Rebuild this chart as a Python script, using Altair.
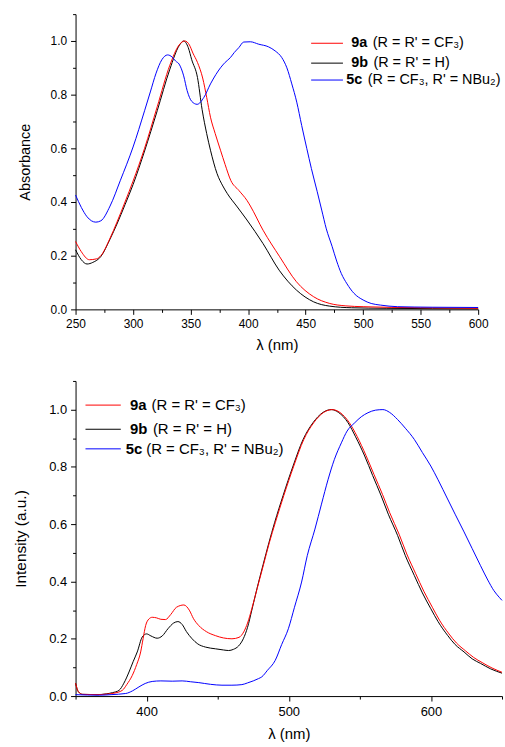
import altair as alt
import pandas as pd

# ---------------- Top panel: absorbance ----------------
abs_nm_9a = [250, 255, 262, 268, 272, 280, 286, 293, 300, 310, 321, 332, 340, 345, 349, 352, 356, 360.5, 364, 367.3,
             371.4, 376, 380, 385, 392, 399, 402, 413, 427.5, 442, 457, 471, 485, 500, 550, 600]
abs_9a = [0.253, 0.215, 0.185, 0.188, 0.20, 0.265, 0.325, 0.40, 0.478, 0.60, 0.755, 0.91, 0.985, 1.0, 0.985, 0.955, 0.92, 0.862, 0.79, 0.716,
          0.655, 0.593, 0.54, 0.48, 0.443, 0.406, 0.385, 0.295, 0.196, 0.103, 0.047, 0.022, 0.013, 0.01, 0.006, 0.004]

abs_nm_9b = [250, 255, 260, 265, 272, 280, 286, 293, 300, 310, 321, 332, 340, 344, 348, 351, 356, 360, 364, 367.3,
             373, 378, 382, 390, 399, 413, 427, 442, 457, 471, 490, 520, 600]
abs_9b = [0.222, 0.185, 0.169, 0.175, 0.197, 0.262, 0.318, 0.39, 0.465, 0.59, 0.74, 0.895, 0.982, 1.0, 0.975, 0.93, 0.864, 0.745, 0.655, 0.593,
          0.506, 0.46, 0.431, 0.385, 0.333, 0.245, 0.146, 0.072, 0.028, 0.012, 0.006, 0.004, 0.002]

abs_nm_5c = [250, 255, 260, 267.6, 272, 280, 289, 300, 310, 315, 320, 325, 330, 334, 337, 340, 344, 347, 351, 355.7,
             361.6, 367.3, 372, 376, 380, 384.6, 388, 391.9, 396.2, 401.9, 409.2, 417.8, 423.5, 429.3, 433.7, 438, 442.3, 446.6, 451, 455,
             460, 464, 468, 473, 477, 481, 486, 492, 500, 507, 515, 530, 560, 600]
abs_5c = [0.426, 0.38, 0.345, 0.325, 0.33, 0.385, 0.481, 0.605, 0.74, 0.81, 0.88, 0.93, 0.948, 0.94, 0.925, 0.914, 0.87, 0.815, 0.775, 0.764,
          0.79, 0.84, 0.875, 0.90, 0.92, 0.938, 0.957, 0.975, 0.996, 0.997, 0.988, 0.978, 0.963, 0.938, 0.90, 0.84, 0.772, 0.685, 0.60, 0.525,
          0.44, 0.37, 0.30, 0.235, 0.18, 0.134, 0.095, 0.06, 0.035, 0.022, 0.016, 0.01, 0.008, 0.007]

# ---------------- Bottom panel: emission ----------------
em_nm_9a = [350, 352, 355, 365, 372, 377, 382.9, 386, 389.9, 393, 395.8, 397.5, 399.3, 401.6, 403.9, 407, 410, 413.2, 417, 421,
            426.2, 430, 433, 436.7, 442, 448.4, 454, 460, 465, 468.3, 471, 474, 477.9, 482.3, 486.3, 490.5, 496.5, 503.5, 510.5, 517.5,
            524.5, 530.5, 536, 542.5, 548, 554.3, 560, 566, 571, 577.6, 583, 589.3, 595, 601, 606, 612.7, 618, 624.3,
            630, 636, 643, 650]
em_9a = [0.045, 0.015, 0.006, 0.005, 0.007, 0.01, 0.02, 0.04, 0.072, 0.11, 0.154, 0.2, 0.246, 0.269, 0.275, 0.273, 0.268, 0.267, 0.285, 0.31,
         0.318, 0.3, 0.27, 0.246, 0.225, 0.211, 0.203, 0.2, 0.205, 0.224, 0.255, 0.305, 0.378, 0.46, 0.535, 0.605, 0.70, 0.803, 0.895, 0.954,
         0.99, 1.0, 0.99, 0.955, 0.907, 0.84, 0.773, 0.703, 0.64, 0.565, 0.496, 0.427, 0.366, 0.31, 0.265, 0.217, 0.185, 0.158,
         0.135, 0.117, 0.098, 0.083]

em_nm_9b = [350, 352, 355, 365, 372, 376, 380.6, 384, 387.6, 390.5, 393.4, 396.9, 400, 403, 407.4, 411, 415, 419, 422, 425,
            428, 432, 436, 441.4, 448.4, 454, 457.7, 461, 464.7, 468, 471, 474, 477.6, 482, 486, 490, 496, 503, 510, 517,
            524, 530, 535, 541.7, 547, 553.4, 559, 565, 570, 576.6, 582, 588.3, 594, 599.9, 605, 611.7, 617, 623.3,
            629, 634.9, 642, 650]
em_9b = [0.045, 0.015, 0.006, 0.005, 0.008, 0.012, 0.02, 0.045, 0.084, 0.12, 0.154, 0.206, 0.217, 0.21, 0.202, 0.21, 0.235, 0.255, 0.26, 0.25,
         0.225, 0.2, 0.182, 0.171, 0.165, 0.161, 0.159, 0.163, 0.175, 0.20, 0.24, 0.30, 0.375, 0.46, 0.535, 0.605, 0.70, 0.803, 0.895, 0.954,
         0.99, 1.0, 0.99, 0.954, 0.905, 0.838, 0.77, 0.699, 0.635, 0.56, 0.49, 0.421, 0.36, 0.305, 0.26, 0.212, 0.18, 0.154,
         0.13, 0.114, 0.095, 0.08]

em_nm_5c = [350, 366.6, 375, 385.3, 390, 394.6, 399, 403.9, 410, 418, 425, 431, 436.7, 445, 453, 460, 467, 471, 475, 478.7,
            481, 485, 490.4, 495, 499.7, 504, 509, 513, 518.4, 523, 527.7, 532, 537, 541, 546.4, 551, 555.7, 561, 566.2, 571,
            576.6, 582, 588.3, 594, 599.9, 605, 611.7, 617, 623.3, 629, 634.9, 640, 644.3, 648, 650]
em_5c = [0.005, 0.003, 0.005, 0.009, 0.018, 0.032, 0.044, 0.051, 0.053, 0.052, 0.053, 0.05, 0.047, 0.041, 0.038, 0.038, 0.04, 0.046, 0.053, 0.061,
         0.067, 0.09, 0.124, 0.18, 0.235, 0.31, 0.398, 0.49, 0.583, 0.67, 0.757, 0.825, 0.884, 0.925, 0.954, 0.975, 0.989, 0.998, 1.0, 0.99,
         0.965, 0.935, 0.896, 0.85, 0.803, 0.755, 0.688, 0.635, 0.573, 0.515, 0.455, 0.405, 0.368, 0.345, 0.334]

# ---------------- Legend text / axis ticks ----------------
series_keys = ["9a", "9b", "5c"]
series_rest = ["(R = R' = CF\u2083)", "(R = R' = H)", "(R = CF\u2083, R' = NBu\u2082)"]
series_colors = ["#ff0000", "#000000", "#0000ff"]

abs_xticks = list(range(250, 601, 25))
em_xticks = list(range(350, 651, 50))
yticks = [round(i * 0.1, 1) for i in range(0, 12)]

FONT = "Liberation Sans"
COLOR = dict(zip(series_keys, series_colors))


def long_df(triples):
    return pd.concat([pd.DataFrame({"nm": xs, "val": ys, "series": k}) for k, xs, ys in triples],
                     ignore_index=True)


abs_df = long_df([("9a", abs_nm_9a, abs_9a), ("9b", abs_nm_9b, abs_9b), ("5c", abs_nm_5c, abs_5c)])
em_df = long_df([("9a", em_nm_9a, em_9a), ("9b", em_nm_9b, em_9b), ("5c", em_nm_5c, em_5c)])
leg_df = pd.DataFrame({"key": series_keys, "rest": series_rest})

Y_MAJOR = "round(datum.value * 10) % 2 === 0"


def panel(df, xdom, xticks, xmajor, ytitle, w, h, lab_size, ytitle_size, ytitle_pad, xlab_pad, leg):
    x_axis = alt.Axis(values=xticks, labelExpr=f"({xmajor}) ? datum.label : ''",
                      tickSize={"condition": {"test": xmajor, "value": 5}, "value": 3},
                      title="λ (nm)", titleFontSize=15, titlePadding=8,
                      labelFontSize=lab_size, labelPadding=xlab_pad, labelOverlap=False, labelFlush=False)
    y_axis = alt.Axis(values=yticks, format=".1f", labelExpr=f"({Y_MAJOR}) ? datum.label : ''",
                      tickSize={"condition": {"test": Y_MAJOR, "value": 5}, "value": 3},
                      title=ytitle, titleFontSize=ytitle_size, titlePadding=ytitle_pad,
                      labelFontSize=lab_size, labelPadding=4, labelOverlap=False)
    x = alt.X("nm:Q", scale=alt.Scale(domain=xdom, nice=False, zero=False), axis=x_axis)
    y = alt.Y("val:Q", scale=alt.Scale(domain=[0, 1.1], nice=False, zero=False), axis=y_axis)
    layers = []
    for s in ["9b", "9a", "5c"]:
        layers.append(alt.Chart(df).transform_filter(alt.datum.series == s)
                      .mark_line(color=COLOR[s], strokeWidth=1, interpolate="monotone")
                      .encode(x=x, y=y))
    for i, s in enumerate(series_keys):
        base = alt.Chart(leg_df).transform_filter(alt.datum.key == s)
        layers.append(base.mark_rule(color=COLOR[s], strokeWidth=1)
                      .encode(x=alt.value(leg["lx"][0]), x2=alt.value(leg["lx"][1]), y=alt.value(leg["ly"][i])))
        layers.append(base.mark_text(align="left", baseline="middle", font=FONT, fontSize=leg["fs"],
                                     fontWeight="bold", color="black")
                      .encode(x=alt.value(leg["bx"][i]), y=alt.value(leg["ly"][i]), text="key:N"))
        layers.append(base.mark_text(align="left", baseline="middle", font=FONT, fontSize=leg["fs"],
                                     color="black")
                      .encode(x=alt.value(leg["rx"][i]), y=alt.value(leg["ly"][i]), text="rest:N"))
    return alt.layer(*layers).properties(width=w, height=h)


top = panel(abs_df, [250, 600], abs_xticks, "datum.value % 50 === 0", "Absorbance", 405, 297,
            12, 14.5, 18, 4,
            {"lx": (237, 269), "ly": (29.3, 49.3, 66.3), "bx": (277.3, 277.3, 272.3),
             "rx": (299, 299.6, 294), "fs": 14.5})
bottom = panel(em_df, [350, 650], em_xticks, "datum.value % 100 === 0", "Intensity (a.u.)", 429, 317,
               13, 15.5, 20, 5,
               {"lx": (10, 45.5), "ly": (24.3, 48.6, 68.3), "bx": (54.8, 54.8, 50.5),
                "rx": (76.5, 77.8, 71.1), "fs": 15})

chart = (alt.vconcat(top, bottom, spacing=72, bounds="flush")
         .properties(padding={"left": 13, "top": 5, "right": 0, "bottom": 0})
         .configure_axis(labelFont=FONT, titleFont=FONT, labelColor="black", titleColor="black",
                         domainColor="black", tickColor="black", domainWidth=1, tickWidth=1,
                         grid=False, titleFontWeight="normal")
         .configure_view(stroke="transparent"))

chart.save("out.html", embed_options={"renderer": "svg", "actions": False})
